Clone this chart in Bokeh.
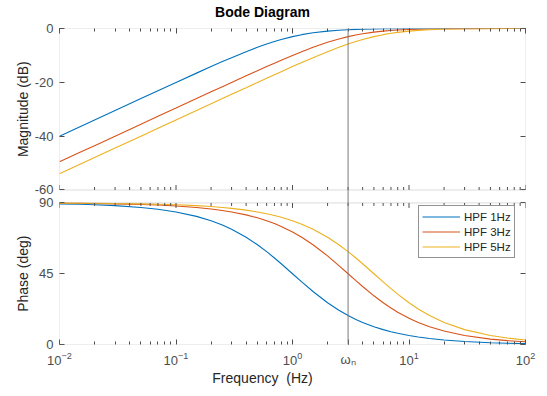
import math
from bokeh.plotting import figure
from bokeh.models import (Range1d, LinearAxis, LogAxis, FixedTicker, LogTicker,
                          BoxAnnotation, Span, Legend, LegendItem,
                          CustomJSTickFormatter)
from bokeh.embed import file_html
from bokeh.resources import INLINE

# ---------------- data ----------------
freq = [0.01, 0.015, 0.02, 0.03, 0.05, 0.07, 0.1, 0.15, 0.2, 0.25, 0.3, 0.4, 0.5,
        0.6, 0.7, 0.8, 1, 1.2, 1.5, 2, 2.5, 3, 3.5, 4, 5, 6, 7, 8, 10, 12, 15, 20,
        30, 50, 70, 100]

mag_1hz = [-40.00, -36.48, -33.98, -30.46, -26.03, -23.12, -20.04, -16.58, -14.15,
           -12.30, -10.83, -8.60, -6.99, -5.77, -4.83, -4.09, -3.01, -2.29, -1.60,
           -0.97, -0.64, -0.46, -0.34, -0.26, -0.17, -0.12, -0.09, -0.07, -0.04,
           -0.03, -0.02, -0.01, -0.005, -0.002, -0.001, 0.0]
mag_3hz = [-49.54, -46.02, -43.52, -40.00, -35.56, -32.64, -29.55, -26.03, -23.54,
           -21.61, -20.04, -17.58, -15.68, -14.15, -12.87, -11.78, -10.00, -8.60,
           -6.99, -5.12, -3.87, -3.01, -2.39, -1.94, -1.34, -0.97, -0.73, -0.57,
           -0.37, -0.26, -0.17, -0.10, -0.04, -0.016, -0.008, -0.004]
mag_5hz = [-53.98, -50.46, -47.96, -44.44, -40.00, -37.08, -33.98, -30.46, -27.97,
           -26.03, -24.45, -21.97, -20.04, -18.48, -17.16, -16.03, -14.15, -12.64,
           -10.83, -8.60, -6.99, -5.77, -4.83, -4.09, -3.01, -2.29, -1.79, -1.43,
           -0.97, -0.70, -0.46, -0.26, -0.12, -0.04, -0.022, -0.011]

phase_1hz = [89.43, 89.14, 88.85, 88.28, 87.14, 86.00, 84.29, 81.47, 78.69, 75.96,
             73.30, 68.20, 63.43, 59.04, 55.01, 51.34, 45.00, 39.81, 33.69, 26.57,
             21.80, 18.43, 15.95, 14.04, 11.31, 9.46, 8.13, 7.13, 5.71, 4.76, 3.81,
             2.86, 1.91, 1.15, 0.82, 0.57]
phase_3hz = [89.81, 89.71, 89.62, 89.43, 89.05, 88.66, 88.09, 87.14, 86.19, 85.24,
             84.29, 82.41, 80.54, 78.69, 76.87, 75.07, 71.57, 68.20, 63.43, 56.31,
             50.19, 45.00, 40.60, 36.87, 30.96, 26.57, 23.20, 20.56, 16.70, 14.04,
             11.31, 8.53, 5.71, 3.43, 2.45, 1.72]
phase_5hz = [89.89, 89.83, 89.77, 89.66, 89.43, 89.20, 88.85, 88.28, 87.71, 87.14,
             86.57, 85.43, 84.29, 83.16, 82.03, 80.91, 78.69, 76.50, 73.30, 68.20,
             63.43, 59.04, 55.01, 51.34, 45.00, 39.81, 35.54, 32.01, 26.57, 22.62,
             18.43, 14.04, 9.46, 5.71, 4.09, 2.86]

series_labels = ["HPF 1Hz", "HPF 3Hz", "HPF 5Hz"]
series_colors = ["#0072BD", "#D95319", "#EDB120"]
mag_series = [mag_1hz, mag_3hz, mag_5hz]
phase_series = [phase_1hz, phase_3hz, phase_5hz]

omega_n = 3.0
omega_label = "ω\u2099"
x_start, x_end = 0.01, 100
decades = [0.01, 0.1, 1, 10, 100]
mag_ticks = [-60, -40, -20, 0]
phase_ticks = [0, 45, 90]

title_text = "Bode Diagram"
xlabel_text = "Frequency\u00a0 (Hz)"
mag_label = "Magnitude (dB)"
phase_label = "Phase (deg)"

# ---------------- layout (pixels) ----------------
W, H = 547, 396
B_LEFT, B_RIGHT, B_TOP, B_BOTTOM = 59, 22, 27, 52
FRAME_W = W - B_LEFT - B_RIGHT            # 466
FRAME_H = H - B_TOP - B_BOTTOM            # 317
PH_PX = 142                               # phase panel height
MAG_PX = 162                              # magnitude panel height
GAP_PX = FRAME_H - PH_PX - MAG_PX         # 13

ph_per_px = 90.0 / PH_PX
ph_top = round(FRAME_H * ph_per_px, 4)
db_per_px = 60.0 / MAG_PX
mag_bottom = -60 - (PH_PX + GAP_PX) * db_per_px

def mag_to_ph(m):
    return round((m - mag_bottom) / (0 - mag_bottom) * ph_top, 4)

# horizontal centre of the title / x label (page px 262)
text_center_x = round(10 ** (math.log10(x_start) + (262 - B_LEFT) / FRAME_W *
                             (math.log10(x_end) - math.log10(x_start))), 6)

FONT = "Liberation Sans"
TICK_COLOR = "#4d4d4d"
LABEL_COLOR = "#262626"
BOX_COLOR = "#8c8c8c"

p = figure(width=W, height=H, x_axis_type="log",
           x_range=Range1d(x_start, x_end), y_range=Range1d(0, ph_top),
           output_backend="svg", toolbar_location=None,
           min_border_left=B_LEFT, min_border_right=B_RIGHT,
           min_border_top=B_TOP, min_border_bottom=B_BOTTOM,
           outline_line_color=None)
p.extra_y_ranges = {"mag": Range1d(mag_bottom, 0)}
p.grid.visible = False

# ---------------- curves ----------------
items = []
for lab, col, mg, ph in zip(series_labels, series_colors, mag_series, phase_series):
    p.line(freq, mg, y_range_name="mag", line_color=col, line_width=1.1)
    r = p.line(freq, ph, line_color=col, line_width=1.1)
    items.append(LegendItem(label=lab, renderers=[r]))

# ---------------- axes ----------------
def style_axis(ax, labels=True, ticks=True):
    ax.axis_line_color = None
    ax.major_tick_in = 5 if ticks else 0
    ax.major_tick_out = 0
    ax.minor_tick_in = 3 if ticks else 0
    ax.minor_tick_out = 0
    ax.major_tick_line_color = TICK_COLOR if ticks else None
    ax.minor_tick_line_color = TICK_COLOR if ticks else None
    ax.major_label_text_font = FONT
    ax.major_label_text_color = TICK_COLOR
    if labels:
        ax.major_label_text_font_size = "13px"
    else:
        ax.formatter = CustomJSTickFormatter(code="return ' ';")
        ax.major_label_text_font_size = "1px"
        ax.major_label_standoff = 0

y_positions = phase_ticks + [mag_to_ph(m) for m in mag_ticks]
y_overrides = {t: str(t) for t in phase_ticks}
y_overrides.update({mag_to_ph(m): str(m) for m in mag_ticks})

# left tick axis
yl = p.yaxis[0]
yl.ticker = FixedTicker(ticks=y_positions)
yl.major_label_overrides = y_overrides
style_axis(yl)
yl.major_label_standoff = 6

# left axis carrying the two panel titles
ylab = LinearAxis(ticker=FixedTicker(ticks=[mag_to_ph(-30), 45]))
style_axis(ylab, ticks=False)
ylab.major_label_overrides = {mag_to_ph(-30): mag_label, 45: phase_label}
ylab.major_label_orientation = "vertical"
ylab.major_label_text_font_size = "14px"
ylab.major_label_text_color = LABEL_COLOR
ylab.major_label_standoff = 0
p.add_layout(ylab, "left")

# right ticks
yr = LinearAxis(ticker=FixedTicker(ticks=y_positions))
style_axis(yr, labels=False)
p.add_layout(yr, "right")

# bottom axis with decade labels and the natural-frequency mark
minor_x = [k * 10.0 ** e for e in range(-2, 2) for k in range(2, 10)]
xb = p.xaxis[0]
xb.ticker = FixedTicker(ticks=decades + [omega_n], minor_ticks=minor_x)
style_axis(xb)
xb.major_label_overrides = {omega_n: omega_label}
xb.major_label_standoff = 7

# bottom axis carrying the x label
xlab = LogAxis(ticker=FixedTicker(ticks=[text_center_x]))
style_axis(xlab, ticks=False)
xlab.major_label_overrides = {text_center_x: xlabel_text}
xlab.major_label_text_font_size = "14px"
xlab.major_label_text_color = LABEL_COLOR
xlab.major_label_standoff = 0
p.add_layout(xlab, "below")

# top ticks
xt = LogAxis(ticker=LogTicker(num_minor_ticks=10))
style_axis(xt, labels=False)
p.add_layout(xt, "above")

# title axis
xtitle = LogAxis(ticker=FixedTicker(ticks=[text_center_x]))
style_axis(xtitle, ticks=False)
xtitle.major_label_overrides = {text_center_x: title_text}
xtitle.major_label_text_font_size = "14px"
xtitle.major_label_text_font_style = "bold"
xtitle.major_label_text_color = "black"
xtitle.major_label_standoff = 5
p.add_layout(xtitle, "above")

# interior ticks (bottom edge of magnitude panel, top edge of phase panel)
y_mag_edge = mag_to_ph(-60)
for xs, length in ((decades, 5), (minor_x, 3)):
    p.segment(x0=xs, x1=xs, y0=[y_mag_edge] * len(xs),
              y1=[y_mag_edge + length * ph_per_px] * len(xs),
              line_color=TICK_COLOR, line_width=1)
    p.segment(x0=xs, x1=xs, y0=[90] * len(xs),
              y1=[90 - length * ph_per_px] * len(xs),
              line_color=TICK_COLOR, line_width=1)

# panel boxes
p.add_layout(BoxAnnotation(left=x_start, right=x_end, bottom=-60, top=0,
                           y_range_name="mag", fill_color=None,
                           line_color=BOX_COLOR, line_width=1))
p.add_layout(BoxAnnotation(left=x_start, right=x_end, bottom=0, top=90,
                           fill_color=None, line_color=BOX_COLOR, line_width=1))

# natural frequency marker
p.add_layout(Span(location=omega_n, dimension="height",
                  line_color="#7a7a7a", line_width=1))

# ---------------- legend ----------------
legend = Legend(items=items, location=(359, 86),
                border_line_color=LABEL_COLOR, border_line_width=1,
                background_fill_color="white", background_fill_alpha=1,
                label_text_font=FONT, label_text_font_size="11.5px",
                label_text_color=LABEL_COLOR,
                glyph_width=38, glyph_height=15, label_height=15,
                label_standoff=4, padding=3, spacing=0, margin=0)
p.add_layout(legend)

open("out.html", "w").write(file_html(p, INLINE))
